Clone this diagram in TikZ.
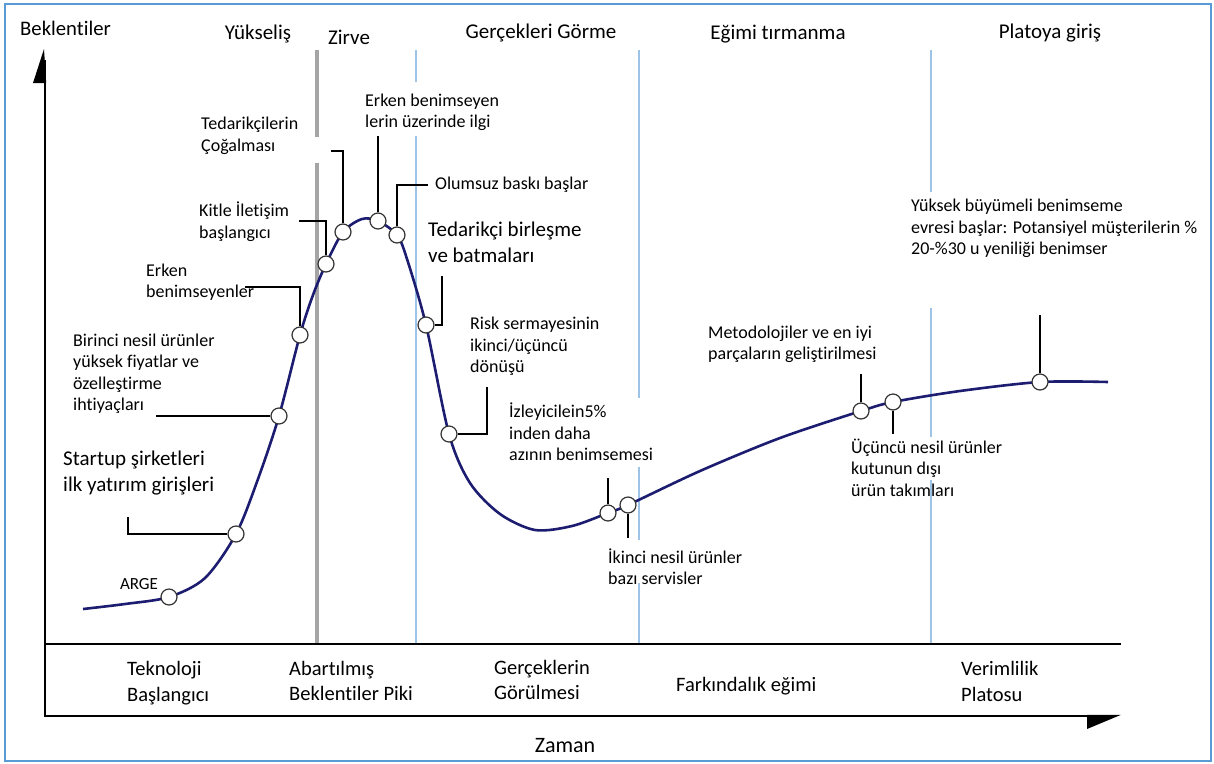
\documentclass[tikz,border=0pt]{standalone}
\usepackage{fontspec}
\setmainfont{Carlito}[Ligatures=NoCommon]
\definecolor{framebl}{HTML}{5B9BD5}
\definecolor{sepblue}{HTML}{9DC3E6}
\definecolor{sepgray}{HTML}{A5A5A5}
\definecolor{navy}{HTML}{1C1C70}
\tikzset{
  lbl/.style={font=\fontsize{18}{21.5}\selectfont, inner sep=0pt, anchor=base west, align=left},
  biglbl/.style={font=\fontsize{21}{26}\selectfont, inner sep=0pt, anchor=base west, align=left},
  toplbl/.style={font=\fontsize{21}{25}\selectfont, inner sep=0pt, anchor=base},
  phaselbl/.style={font=\fontsize{20.5}{25.5}\selectfont, inner sep=0pt, anchor=base west, align=left},
  ptc/.style={circle, draw=black!80, fill=white, line width=1.2pt, minimum size=16pt, inner sep=0pt},
  leader/.style={draw=black, line width=1.2pt},
  vsep/.style={draw=sepblue, line width=2.2pt},
  gsep/.style={draw=sepgray, line width=4pt},
  hype/.style={draw=navy, line width=2.6pt},
  axisln/.style={draw=black, line width=2.4pt},
}
\begin{document}
\begin{tikzpicture}[x=1pt,y=-1pt]
\useasboundingbox (0,0) rectangle (1214,763);
% frame
\draw[framebl, line width=2pt] (5,4) rectangle (1211,761);
% separators
\draw[gsep] (317,50) -- (317,137);
\draw[gsep] (317,163) -- (317,644);
\draw[vsep] (416,50) -- (416,82);
\draw[vsep] (416,136) -- (416,644);
\draw[vsep] (639,50) -- (639,398);
\draw[vsep] (639,467) -- (639,540);
\draw[vsep] (639,583) -- (639,644);
\draw[vsep] (931,50) -- (931,192);
\draw[vsep] (931,308) -- (931,437);
\draw[vsep] (931,480) -- (931,644);
% axes
\draw[axisln] (45,60) -- (45,716) -- (1100,716);
\draw[axisln] (45,644) -- (1121,644);
\fill (44,49) -- (33,83) -- (46.2,83) -- cycle;
\fill (1087,714.8) -- (1121,714.8) -- (1087,729) -- cycle;
% hype curve
\draw[hype] plot[smooth, tension=0.5] coordinates {
 (83,609) (125,604) (169,597) (205,578) (236,534) (258,479) (279,416) (300,335)
 (313,295) (326,264) (343,232) (362,219) (378,221) (397,235) (407,259) (426,325)
 (449,434) (470,483) (500,514) (535,530) (572,526) (608,513) (628,505) (700,471)
 (780,438) (861,411) (893,402) (960,391) (1040,382) (1108,382)};
% leader end points
\coordinate (s2) at (128,517);
\coordinate (s3) at (156,416);
\coordinate (s4) at (245,287);
\coordinate (s5) at (299,221);
\coordinate (s6) at (331,151);
\coordinate (s7) at (378,136);
\coordinate (s8) at (428,185);
\coordinate (s9) at (442,276);
\coordinate (s10) at (487,387);
\coordinate (s11) at (608,478);
\coordinate (s12) at (628,538);
\coordinate (s13) at (861,374);
\coordinate (s14) at (893,434);
\coordinate (s15) at (1040,315);
% points on curve
\node[ptc] (c1) at (169,597) {};
\node[ptc] (c2) at (236,534) {};
\node[ptc] (c3) at (279,416) {};
\node[ptc] (c4) at (300,335) {};
\node[ptc] (c5) at (326,264) {};
\node[ptc] (c6) at (343,232) {};
\node[ptc] (c7) at (378,221) {};
\node[ptc] (c8) at (397,235) {};
\node[ptc] (c9) at (426,325) {};
\node[ptc] (c10) at (449,434) {};
\node[ptc] (c11) at (608,513) {};
\node[ptc] (c12) at (628,505) {};
\node[ptc] (c13) at (861,411) {};
\node[ptc] (c14) at (893,402) {};
\node[ptc] (c15) at (1040,382) {};
% leaders
\draw[leader] (c2.west) -| (s2);
\draw[leader] (c3.west) -- (s3);
\draw[leader] (c4.north) |- (s4);
\draw[leader] (c5.north) |- (s5);
\draw[leader] (c6.north) |- (s6);
\draw[leader] (c7.north) -- (s7);
\draw[leader] (c8.north) |- (s8);
\draw[leader] (c9.east) -| (s9);
\draw[leader] (c10.east) -| (s10);
\draw[leader] (c11.north) -- (s11);
\draw[leader] (c12.south) -- (s12);
\draw[leader] (c13.north) -- (s13);
\draw[leader] (c14.south) -- (s14);
\draw[leader] (c15.north) -- (s15);
% top labels
\node[font=\fontsize{20.7}{25}\selectfont, inner sep=0pt, anchor=base west] (tbek) at (20,35.5) {Beklentiler};
\node[toplbl] (tyuk) at (258,39) {Yükseliş};
\node[toplbl] (tzir) at (349,44) {Zirve};
\node[toplbl] (tger) at (541,38.5) {Gerçekleri Görme};
\node[toplbl] (tegi) at (778,39) {Eğimi tırmanma};
\node[toplbl] (tpla) at (1050,38.5) {Platoya giriş};
% callouts (anchor = baseline of the last line)
\node[lbl] (l6) at (201,151) {Tedarikçilerin\\Çoğalması};
\node[lbl] (l5) at (199,238) {Kitle İletişim\\başlangıcı};
\node[lbl] (l7) at (365,127.5) {Erken benimseyen\\lerin üzerinde ilgi};
\node[lbl] (l8) at (435,189.5) {Olumsuz baskı başlar};
\node[biglbl] (l9) at (428,262.5) {Tedarikçi birleşme\\ve batmaları};
\node[lbl] (l4) at (146,297.5) {Erken\\benimseyenler};
\node[lbl] (l3) at (73,410.5) {Birinci nesil ürünler\\yüksek fiyatlar ve\\özelleştirme\\ihtiyaçları};
\node[biglbl] (l2) at (63,491.5) {Startup şirketleri\\ilk yatırım girişleri};
\node[font=\fontsize{17}{20}\selectfont, inner sep=0pt, anchor=base] (l1) at (139,589) {ARGE};
\node[lbl] (l10) at (470,372.5) {Risk sermayesinin\\ikinci/üçüncü\\dönüşü};
\node[lbl] (l11) at (509,460.5) {İzleyicilein5\%\\inden daha\\azının benimsemesi};
\node[lbl] (l12) at (608,584.5) {İkinci nesil ürünler\\bazı servisler};
\node[lbl] (l13) at (708,359.5) {Metodolojiler ve en iyi\\parçaların geliştirilmesi};
\node[lbl] (l14) at (851,496) {Üçüncü nesil ürünler\\kutunun dışı\\ürün takımları};
\node[lbl] (l15) at (911,254.5) {Yüksek büyümeli benimseme\\evresi başlar: Potansiyel müşterilerin \%\\20-\%30 u yeniliği benimser};
% phase labels
\node[phaselbl] (p1) at (127,701) {Teknoloji\\Başlangıcı};
\node[phaselbl] (p2) at (289,700.5) {Abartılmış\\Beklentiler Piki};
\node[phaselbl] (p3) at (494,699.5) {Gerçeklerin\\Görülmesi};
\node[phaselbl] (p4) at (676,691) {Farkındalık eğimi};
\node[phaselbl] (p5) at (961,701) {Verimlilik\\Platosu};
\node[font=\fontsize{22}{26}\selectfont, inner sep=0pt, anchor=base] (zaman) at (565,752) {Zaman};
\end{tikzpicture}
\end{document}
